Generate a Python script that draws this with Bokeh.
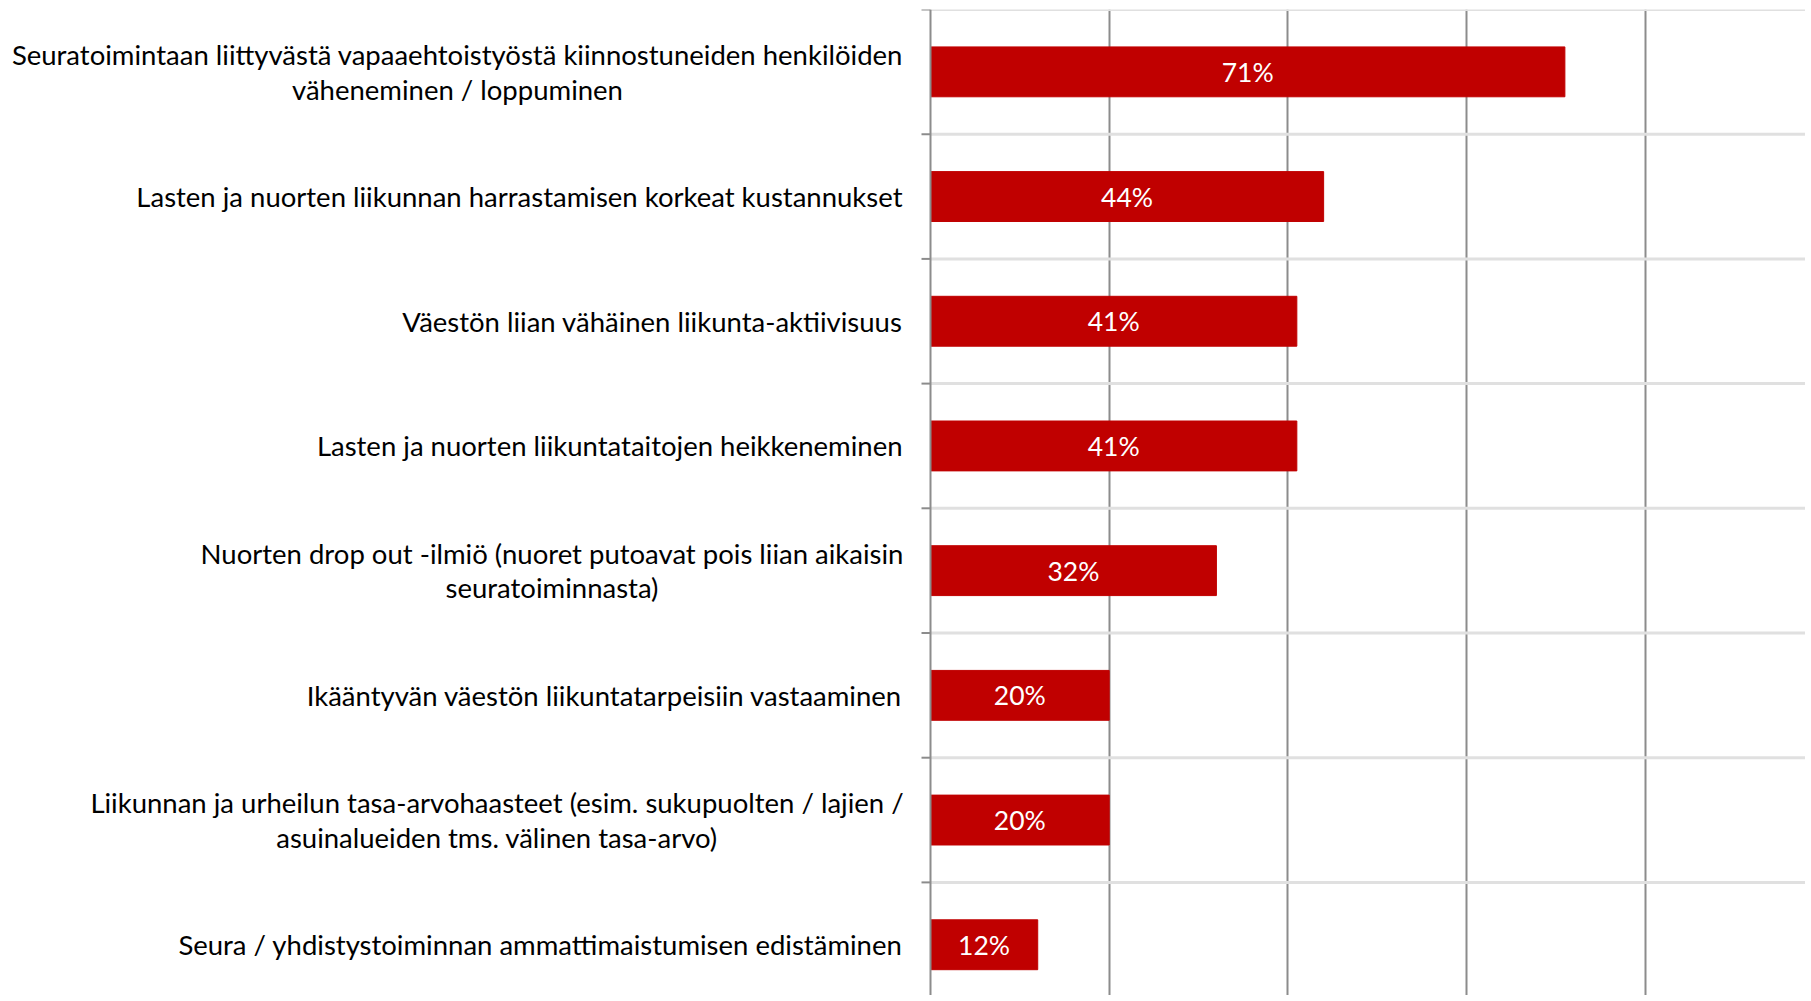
from bokeh.plotting import figure
from bokeh.models import Range1d, FixedTicker, Grid, Span
from bokeh.core.properties import value
from bokeh.embed import file_html
from bokeh.resources import INLINE

categories = [
    "Seuratoimintaan liittyvästä vapaaehtoistyöstä kiinnostuneiden henkilöiden\nväheneminen / loppuminen",
    "Lasten ja nuorten liikunnan harrastamisen korkeat kustannukset",
    "Väestön liian vähäinen liikunta-aktiivisuus",
    "Lasten ja nuorten liikuntataitojen heikkeneminen",
    "Nuorten drop out -ilmiö (nuoret putoavat pois liian aikaisin\nseuratoiminnasta)",
    "Ikääntyvän väestön liikuntatarpeisiin vastaaminen",
    "Liikunnan ja urheilun tasa-arvohaasteet (esim. sukupuolten / lajien /\nasuinalueiden tms. välinen tasa-arvo)",
    "Seura / yhdistystoiminnan ammattimaistumisen edistäminen",
]
values = [71, 44, 41, 41, 32, 20, 20, 12]
value_labels = [f"{v}%" for v in values]
grid_values = [20, 40, 60, 80, 100]

FONT = "Lato"
LABEL_SIZE = "27.5px"
AXIS_X = 930               # pixel position of the value axis (0 %)
LABEL_RIGHT = 902          # pixel position of the right edge of category labels
PX = 178.7 / 20            # pixels per percentage point
n = len(categories)
ypos = [i + 0.5 for i in range(n)]
bounds_y = list(range(n + 1))

W, H = 1805, 995
X_END = (W - AXIS_X) / PX
p = figure(width=W, height=H, output_backend="svg", toolbar_location=None,
           x_range=Range1d(-AXIS_X / PX, X_END),
           y_range=Range1d((H - 9) / 124.7, 0),
           x_axis_location=None, y_axis_location=None,
           min_border_left=0, min_border_right=0,
           min_border_top=9, min_border_bottom=0)
p.outline_line_color = None
p.background_fill_color = "white"
p.border_fill_color = "white"
for g in p.grid:
    g.visible = False

# value gridlines (vertical)
p.add_layout(Grid(dimension=0, ticker=FixedTicker(ticks=grid_values),
                  grid_line_color="#8c8c8c", grid_line_width=2))
# category separators, starting at the axis, and the axis tick marks
p.segment(x0=[0] * len(bounds_y), x1=[X_END] * len(bounds_y), y0=bounds_y, y1=bounds_y,
          line_color="#e0e0e0", line_width=3)
p.segment(x0=[-9 / PX] * len(bounds_y), x1=[0] * len(bounds_y), y0=bounds_y, y1=bounds_y,
          line_color="#8c8c8c", line_width=2)

p.hbar(y=ypos, right=values, left=0, height=0.4, color="#c00000")
p.text(x=[v / 2 for v in values], y=ypos, text=value_labels, text_align="center",
       text_baseline="middle", text_color="white", text_font=value(FONT),
       text_font_size="26.5px")

# value axis line
p.add_layout(Span(location=0, dimension="height", line_color="#8c8c8c", line_width=2))

# category labels: single-line right-aligned, two-line blocks with centred lines
block_widths = {0: 890, 4: 701, 6: 811}  # width of the longest line (px)
single = [(c, y) for c, y in zip(categories, ypos) if "\n" not in c]
double = [(c, y, i) for i, (c, y) in enumerate(zip(categories, ypos)) if "\n" in c]
p.text(x=[(LABEL_RIGHT - AXIS_X) / PX] * len(single), y=[y for _, y in single],
       text=[c for c, _ in single], text_align="right", text_baseline="middle",
       text_color="black", text_font=value(FONT), text_font_size=LABEL_SIZE)
p.text(x=[(LABEL_RIGHT - block_widths[i] / 2 - AXIS_X) / PX for _, _, i in double],
       y=[y for _, y, _ in double], text=[c for c, _, _ in double],
       text_align="center", text_baseline="middle", text_color="black",
       text_font=value(FONT), text_font_size=LABEL_SIZE, text_line_height=1.05)

open("out.html", "w").write(file_html(p, INLINE))
